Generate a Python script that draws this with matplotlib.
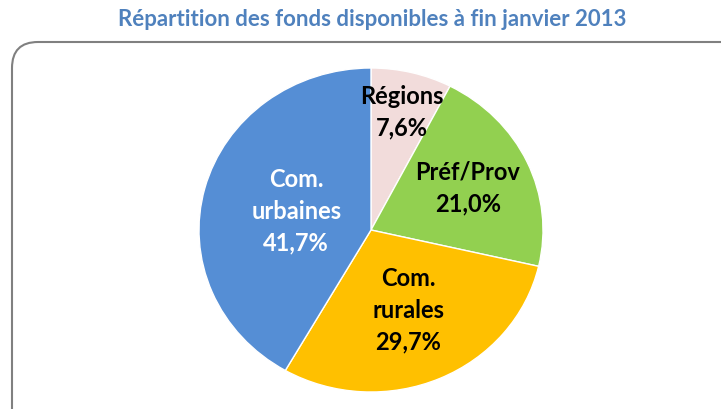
import matplotlib
matplotlib.use("Agg")
import matplotlib.pyplot as plt
from matplotlib.patches import FancyBboxPatch
import numpy as np

title = "Répartition des fonds disponibles à fin janvier 2013"
labels = ["Régions", "Préf/Prov", "Com.\nrurales", "Com.\nurbaines"]
values = [7.6, 21.0, 29.7, 41.7]
colours = ["#F2DCDB", "#92D050", "#FFC000", "#558ED5"]
text_colours = ["black", "black", "black", "white"]
label_dist = [0.75, 0.62, 0.54, 0.45]

plt.rcParams['font.family'] = ['Lato', 'DejaVu Sans']

W, H = 721, 409
fig = plt.figure(figsize=(W / 100, H / 100), dpi=100)

# background axes in pixel units for the frame and the title
bg = fig.add_axes([0, 0, 1, 1])
bg.set_xlim(0, W)
bg.set_ylim(H, 0)
bg.axis("off")
frame = FancyBboxPatch((12, 42), W + 40, H, boxstyle="round,pad=0,rounding_size=26",
                       fc="white", ec="#808080", lw=1.5)
bg.add_patch(frame)
bg.text(372, 20, title, ha="center", va="center", fontsize=16,
        fontweight="bold", color="#4F81BD")

# pie axes (slightly wider than tall, like the original)
cx, cy, rx, ry = 371, 230, 172, 162
ax = fig.add_axes([(cx - rx) / W, (H - cy - ry) / H, 2 * rx / W, 2 * ry / H])
wedges, _ = ax.pie(values, colors=colours, startangle=90, counterclock=False,
                   wedgeprops=dict(edgecolor="white", linewidth=1))
ax.set_aspect("auto")
ax.set_xlim(-1, 1)
ax.set_ylim(-1, 1)

for w, lab, v, tc, d in zip(wedges, labels, values, text_colours, label_dist):
    ang = np.deg2rad((w.theta1 + w.theta2) / 2)
    txt = lab + "\n" + ("%.1f%%" % v).replace(".", ",")
    ax.text(d * np.cos(ang), d * np.sin(ang), txt, ha="center", va="center",
            fontsize=17, fontweight="bold", color=tc, linespacing=1.45)

fig.savefig("out.png", dpi=100)
